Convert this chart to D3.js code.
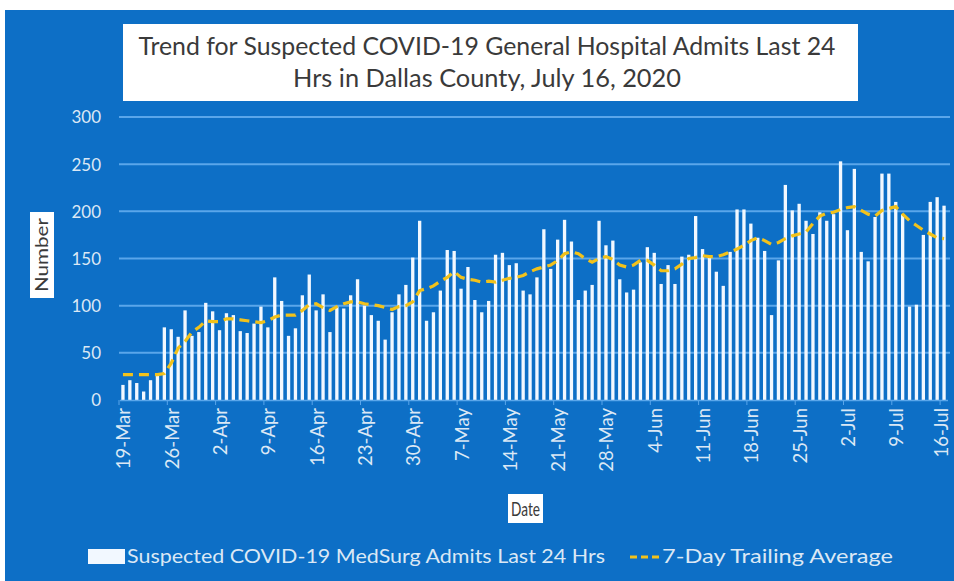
<!DOCTYPE html>
<html>
<head>
<meta charset="utf-8">
<script src="https://cdn.jsdelivr.net/npm/d3@7"></script>
<style>
  html, body { margin: 0; padding: 0; background: #ffffff; }
  svg { display: block; }
</style>
</head>
<body>
<svg id="chart" width="954" height="581"></svg>
<script>
// ---------- DATA ----------
const startDate = new Date(2020, 2, 19);
const endDate = new Date(2020, 6, 17);
const categories = d3.timeDay.range(startDate, endDate); // 19-Mar .. 16-Jul (120 days)

const admits = [
  16,21,18,9,21,26,77,75,67,95,68,72,103,94,
  74,92,90,73,71,81,99,77,130,105,68,76,111,133,
  95,112,72,99,97,111,128,100,90,84,64,93,112,122,
  151,190,84,93,116,159,158,118,141,106,93,105,154,156,
  143,145,116,112,130,181,139,170,191,168,106,116,122,190,
  164,169,128,114,117,146,162,156,123,143,123,152,154,195,
  160,152,136,121,157,202,202,187,172,158,90,148,228,201,
  208,190,176,199,190,197,253,180,245,157,147,194,240,240,
  210,197,99,101,175,210,215,206
];

const trailingAvg = [
  27,27,27,27,27,27,28,39,55,62,72,77,84,83,
  83,86,86,85,84,83,82,84,88,90,90,90,95,101,
  102,98,95,99,102,104,104,102,101,100,98,96,99,100,
  104,116,118,121,126,130,136,130,128,127,125,126,125,127,
  129,130,132,136,139,141,143,148,155,157,155,150,146,150,
  152,149,143,141,143,148,148,143,137,137,139,144,150,151,
  153,152,152,154,157,160,164,169,172,169,165,167,171,174,
  176,178,187,195,198,199,202,204,205,201,197,195,201,203,
  205,197,190,185,180,176,172,171
];

const yTicks = [0, 50, 100, 150, 200, 250, 300];
const xTickLabels = ["19-Mar","26-Mar","2-Apr","9-Apr","16-Apr","23-Apr","30-Apr","7-May",
  "14-May","21-May","28-May","4-Jun","11-Jun","18-Jun","25-Jun","2-Jul","9-Jul","16-Jul"];

const titleLines = ["Trend for Suspected COVID-19 General Hospital Admits Last 24",
                    "Hrs in Dallas County, July 16, 2020"];
const seriesNames = ["Suspected COVID-19 MedSurg Admits Last 24 Hrs", "7-Day Trailing Average"];

// ---------- LAYOUT ----------
const FONT = "Lato, 'Open Sans', sans-serif";
const BG = "#0d6fc6";
const GRID = "#5aa6ea";
const TXT = "#dbe8f5";
const LINE = "#f2c21b";

const svg = d3.select("#chart");
svg.append("rect").attr("x", 5).attr("y", 10).attr("width", 949).attr("height", 571).attr("fill", BG);

const x = d3.scaleBand().domain(categories.map(d => +d)).range([119.5, 947.5]).paddingInner(0.52).paddingOuter(0.26);
const y = d3.scaleLinear().domain([0, 300]).range([400, 117]);

// gridlines
svg.append("g").selectAll("line").data(yTicks.filter(t => t > 0)).join("line")
  .attr("x1", 119).attr("x2", 950)
  .attr("y1", d => y(d)).attr("y2", d => y(d))
  .attr("stroke", GRID).attr("stroke-width", 2);

// y axis labels
const yAxis = d3.axisLeft(y).tickValues(yTicks).tickSize(0).tickPadding(0);
const yg = svg.append("g").attr("transform", "translate(101,0)").call(yAxis);
yg.select(".domain").remove();
yg.selectAll("text").attr("fill", TXT).style("font-family", FONT).style("font-size", "17px").attr("dy", "0.35em");

// bars
svg.append("g").selectAll("rect").data(admits).join("rect")
  .attr("x", (d, i) => x(+categories[i]))
  .attr("width", x.bandwidth())
  .attr("y", d => y(d))
  .attr("height", d => y(0) - y(d))
  .attr("fill", "#f2f8ff");

// x axis
const labelMap = new Map();
categories.forEach((d, i) => { if (i % 7 === 0) labelMap.set(+d, xTickLabels[i / 7]); });
const xAxis = d3.axisBottom(x)
  .tickValues(categories.filter((d, i) => i % 7 === 0).map(d => +d))
  .tickFormat(d => labelMap.get(d))
  .tickSize(0).tickPadding(0);
const xg = svg.append("g").attr("transform", "translate(0,400)").call(xAxis);
xg.select(".domain").attr("stroke", GRID).attr("stroke-width", 1.5);
const nLabels = xTickLabels.length;
xg.selectAll("text")
  .attr("fill", TXT).style("font-family", FONT).style("font-size", "18.5px")
  .attr("text-anchor", "end")
  .attr("transform", (d, i) => `translate(${i === nLabels - 1 ? -3 : 1},8) rotate(-90)`)
  .attr("x", 0).attr("y", 0).attr("dy", "0.35em");
// boundary tick marks every 7 categories
svg.append("g").selectAll("line").data(categories.filter((d, i) => i % 7 === 0)).join("line")
  .attr("x1", d => x(+d) - x.step() * x.paddingInner() / 2 - 0.5)
  .attr("x2", d => x(+d) - x.step() * x.paddingInner() / 2 - 0.5)
  .attr("y1", 400).attr("y2", 405)
  .attr("stroke", GRID).attr("stroke-width", 1);

// trailing average line
const line = d3.line()
  .x((d, i) => x(+categories[i]) + x.bandwidth() / 2)
  .y(d => y(d));
svg.append("path").datum(trailingAvg)
  .attr("d", line).attr("fill", "none")
  .attr("stroke", LINE).attr("stroke-width", 3.2)
  .attr("stroke-dasharray", "10,6").attr("stroke-linecap", "butt");

// title
svg.append("rect").attr("x", 123).attr("y", 24).attr("width", 735).attr("height", 77).attr("fill", "#ffffff");
svg.append("text").attr("x", 487).attr("y", 55).attr("text-anchor", "middle")
  .style("font-family", FONT).style("font-size", "25px").attr("fill", "#3a3a3a")
  .attr("textLength", 697).attr("lengthAdjust", "spacingAndGlyphs").text(titleLines[0]);
svg.append("text").attr("x", 487).attr("y", 87).attr("text-anchor", "middle")
  .style("font-family", FONT).style("font-size", "25px").attr("fill", "#3a3a3a")
  .attr("textLength", 388).attr("lengthAdjust", "spacingAndGlyphs").text(titleLines[1]);

// y axis title
svg.append("rect").attr("x", 30).attr("y", 212).attr("width", 24).attr("height", 86).attr("fill", "#ffffff");
svg.append("text").attr("transform", "translate(48,255) rotate(-90)").attr("text-anchor", "middle")
  .style("font-family", FONT).style("font-size", "18px").attr("fill", "#3a3a3a")
  .attr("textLength", 74).attr("lengthAdjust", "spacingAndGlyphs").text("Number");

// x axis title
svg.append("rect").attr("x", 508).attr("y", 494).attr("width", 35).attr("height", 29).attr("fill", "#ffffff");
svg.append("text").attr("x", 525.5).attr("y", 515.5).attr("text-anchor", "middle")
  .style("font-family", FONT).style("font-size", "19px").attr("fill", "#3a3a3a")
  .attr("textLength", 29).attr("lengthAdjust", "spacingAndGlyphs").text("Date");

// legend
svg.append("rect").attr("x", 88).attr("y", 549).attr("width", 37).attr("height", 15).attr("fill", "#f2f8ff");
svg.append("text").attr("x", 127).attr("y", 563)
  .style("font-family", FONT).style("font-size", "19px").attr("fill", TXT)
  .attr("textLength", 478).attr("lengthAdjust", "spacingAndGlyphs").text(seriesNames[0]);
svg.append("line").attr("x1", 630).attr("x2", 661).attr("y1", 557).attr("y2", 557)
  .attr("stroke", LINE).attr("stroke-width", 3.2).attr("stroke-dasharray", "7,4");
svg.append("text").attr("x", 662).attr("y", 563)
  .style("font-family", FONT).style("font-size", "19px").attr("fill", TXT)
  .attr("textLength", 231).attr("lengthAdjust", "spacingAndGlyphs").text(seriesNames[1]);
</script>
</body>
</html>
